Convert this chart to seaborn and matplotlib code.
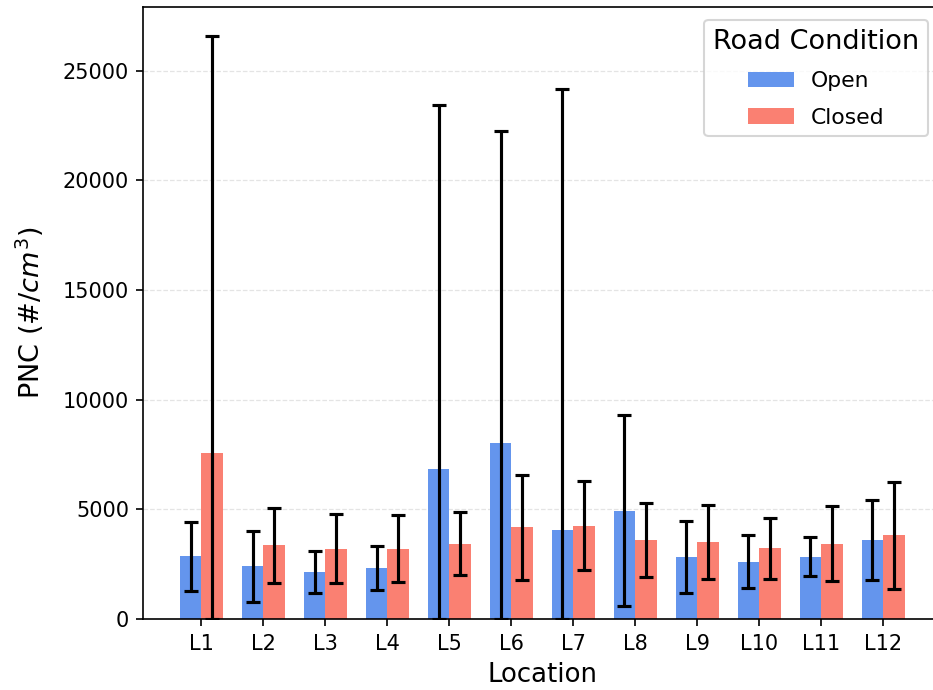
import numpy as np
import pandas as pd
import matplotlib
matplotlib.use("Agg")
import matplotlib.pyplot as plt
import seaborn as sns

# Mean PNC and standard deviation per location
locations = ["L1", "L2", "L3", "L4", "L5", "L6", "L7", "L8", "L9", "L10", "L11", "L12"]
open_mean = [2850, 2400, 2150, 2320, 6815, 8025, 4040, 4940, 2840, 2610, 2840, 3590]
open_std = [1570, 1610, 970, 990, 16600, 14220, 20100, 4360, 1645, 1200, 895, 1820]
closed_mean = [7570, 3360, 3200, 3210, 3440, 4185, 4260, 3590, 3510, 3225, 3440, 3810]
closed_std = [19000, 1720, 1575, 1540, 1420, 2390, 2040, 1680, 1680, 1390, 1730, 2445]

conditions = ["Open", "Closed"]
colors = {"Open": "cornflowerblue", "Closed": "salmon"}


def main():
    df = pd.DataFrame({
        "Location": locations * 2,
        "Condition": ["Open"] * len(locations) + ["Closed"] * len(locations),
        "PNC": open_mean + closed_mean,
        "STD": open_std + closed_std,
    })

    fig = plt.figure(figsize=(933 / 150, 690 / 150), dpi=150)
    ax = fig.add_axes([0.1538, 0.1029, 0.855, 0.887])

    sns.barplot(data=df, x="Location", y="PNC", hue="Condition",
                hue_order=conditions, palette=colors, saturation=1,
                width=0.7, errorbar=None, linewidth=0, ax=ax)

    # Error bars (lower end clipped at zero)
    for cond, container in zip(conditions, ax.containers):
        sub = df[df["Condition"] == cond]
        means = sub["PNC"].to_numpy()
        stds = sub["STD"].to_numpy()
        xs = [p.get_x() + p.get_width() / 2 for p in container.patches]
        lower = np.minimum(stds, means)
        ax.errorbar(xs, means, yerr=[lower, stds], fmt="none", ecolor="black",
                    elinewidth=1.5, capsize=3.3, capthick=1.5, zorder=3)

    n = len(locations)
    lo, hi = -0.35, n - 1 + 0.35
    pad = 0.05 * (hi - lo)
    ax.set_xlim(lo - pad, hi + pad)
    ax.set_ylim(bottom=0)

    ax.yaxis.grid(True, linestyle="--", color="lightgrey", alpha=0.6, linewidth=0.6)
    ax.set_axisbelow(True)

    ax.set_xlabel("Location", fontsize=12.5)
    ax.set_ylabel("PNC ($\\#/cm^3$)", fontsize=13, labelpad=8)
    ax.tick_params(labelsize=10)

    ax.legend(title="Road Condition", loc="upper right", fontsize=10.5,
              title_fontsize=13, handlelength=2.1, labelspacing=0.75,
              borderaxespad=0.6)

    fig.savefig("out.png", dpi=150)
    plt.close(fig)


if __name__ == "__main__":
    main()
